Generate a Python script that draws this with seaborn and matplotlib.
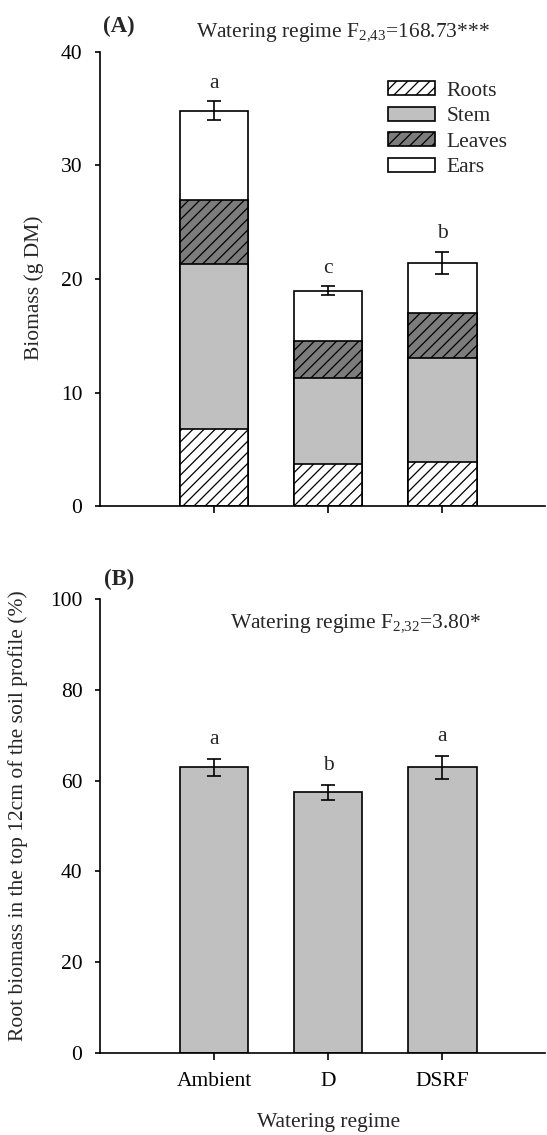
import numpy as np
import matplotlib
matplotlib.use("Agg")
import matplotlib.pyplot as plt
import seaborn as sns
from matplotlib.patches import Patch

# Watering regimes (x categories)
regimes = ["Ambient", "D", "DSRF"]

# (A) Biomass components, g DM
roots = [6.81, 3.73, 3.88]
stem = [14.48, 7.52, 9.16]
leaves = [5.70, 3.26, 3.96]
ears = [7.84, 4.46, 4.44]
total_se = [0.84, 0.40, 0.98]
letters_a = ["a", "c", "b"]

# (B) Share of root biomass in the top 12 cm, %
root_top = [62.9, 57.4, 62.9]
root_top_se = [1.8, 1.6, 2.45]
letters_b = ["a", "b", "a"]

sns.set_style("ticks")
plt.rcParams["font.family"] = ["Liberation Serif", "DejaVu Serif"]
plt.rcParams["mathtext.fontset"] = "custom"
plt.rcParams["mathtext.rm"] = "Liberation Serif"
plt.rcParams["mathtext.it"] = "Liberation Serif:italic"
plt.rcParams["hatch.linewidth"] = 0.9
plt.rcParams["axes.linewidth"] = 1.2

FS = 15.5
W, H = 547, 1135
fig = plt.figure(figsize=(W / 100, H / 100), dpi=100)

def fx(px):
    return px / W

def fy(py):
    return 1 - py / H

ax_a = fig.add_axes([fx(100), fy(506), fx(545) - fx(100), fy(52) - fy(506)])
ax_b = fig.add_axes([fx(100), fy(1053), fx(545) - fx(100), fy(599) - fy(1053)])

STEM_C = "#c0c0c0"
LEAF_C = "#7c7c7c"
HATCH = "///"
bar_kw = dict(width=0.6, saturation=1, edgecolor="black", linewidth=1.2)

# Stacked bars: draw cumulative heights from the top layer down
layers = [
    ("Ears", "white", None),
    ("Leaves", LEAF_C, HATCH),
    ("Stem", STEM_C, None),
    ("Roots", "white", HATCH),
]
stack = np.array([roots, stem, leaves, ears])
cum = np.cumsum(stack, axis=0)  # roots, +stem, +leaves, +ears
cum_by_layer = {"Roots": cum[0], "Stem": cum[1], "Leaves": cum[2], "Ears": cum[3]}
for name, colour, hatch in layers:
    sns.barplot(x=regimes, y=list(cum_by_layer[name]), color=colour, hatch=hatch,
                ax=ax_a, **bar_kw)

totals = cum[3]
xpos = np.arange(len(regimes))
ax_a.errorbar(xpos, totals, yerr=total_se, fmt="none", ecolor="black",
              elinewidth=1.2, capsize=5, capthick=1.2, zorder=5)
for i, (t, se, lab) in enumerate(zip(totals, total_se, letters_a)):
    ax_a.annotate(lab, xy=(i, t + se), xytext=(0, 13), textcoords="offset points",
                  ha="center", va="center", fontsize=FS)

ax_a.set_xlim(-1.0, 2.9)
ax_a.set_ylim(0, 40)
ax_a.set_yticks(np.arange(0, 41, 10))
ax_a.set_xticks(xpos)
ax_a.set_xticklabels([])
ax_a.set_xlabel("")
ax_a.set_ylabel("")

handles = [
    Patch(facecolor="white", edgecolor="black", hatch=HATCH, linewidth=1.2),
    Patch(facecolor=STEM_C, edgecolor="black", linewidth=1.2),
    Patch(facecolor=LEAF_C, edgecolor="black", hatch=HATCH, linewidth=1.2),
    Patch(facecolor="white", edgecolor="black", linewidth=1.2),
]
fig.legend(handles, ["Roots", "Stem", "Leaves", "Ears"], loc="upper left",
           bbox_to_anchor=(fx(388), fy(81)), bbox_transform=fig.transFigure,
           frameon=False, fontsize=FS, handlelength=2.2, handleheight=0.62,
           handletextpad=0.5, labelspacing=0.28, borderpad=0, borderaxespad=0)

# (B) single bars
sns.barplot(x=regimes, y=root_top, color=STEM_C, ax=ax_b, **bar_kw)
ax_b.errorbar(xpos, root_top, yerr=root_top_se, fmt="none", ecolor="black",
              elinewidth=1.2, capsize=5, capthick=1.2, zorder=5)
for i, (t, se, lab) in enumerate(zip(root_top, root_top_se, letters_b)):
    ax_b.annotate(lab, xy=(i, t + se), xytext=(0, 14), textcoords="offset points",
                  ha="center", va="center", fontsize=FS)

ax_b.set_xlim(-1.0, 2.9)
ax_b.set_ylim(0, 100)
ax_b.set_yticks(np.arange(0, 101, 20))
ax_b.set_xticks(xpos)
ax_b.set_xticklabels(regimes)
ax_b.set_xlabel("")
ax_b.set_ylabel("")

for ax in (ax_a, ax_b):
    sns.despine(ax=ax)
    ax.tick_params(axis="y", direction="out", length=3.6, width=1.2,
                   pad=9, labelsize=FS, colors="black")
    ax.tick_params(axis="x", direction="out", length=4.7, width=1.2,
                   pad=9, labelsize=FS, colors="black")
    for s in ("left", "bottom"):
        ax.spines[s].set_color("black")

# Panel tags, statistics and axis titles
fig.text(fx(119), fy(32), "(A)", fontsize=FS + 1, fontweight="bold",
         ha="center", va="baseline")
fig.text(fx(343), fy(37), r"Watering regime F$_{\mathrm{2{,}43}}$=168.73***",
         fontsize=FS, ha="center", va="baseline")
fig.text(fx(119), fy(585), "(B)", fontsize=FS + 1, fontweight="bold",
         ha="center", va="baseline")
fig.text(fx(355), fy(628), r"Watering regime F$_{\mathrm{2{,}32}}$=3.80*",
         fontsize=FS, ha="center", va="baseline")
fig.text(fx(34), fy(288), "Biomass (g DM)", rotation=90, fontsize=FS,
         ha="center", va="center")
fig.text(fx(18), fy(816), "Root biomass in the top 12cm of the soil profile (%)",
         rotation=90, fontsize=FS, ha="center", va="center")
fig.text(fx(329), fy(1123), "Watering regime", fontsize=FS,
         ha="center", va="center")

fig.savefig("out.png", dpi=100, facecolor="white")
